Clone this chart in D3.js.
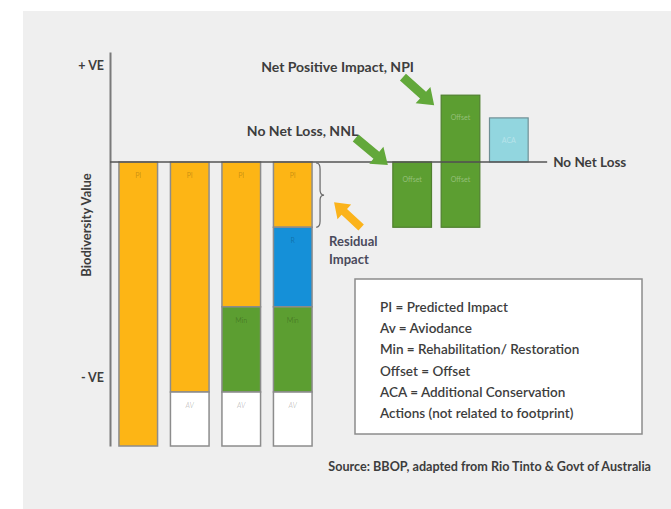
<!DOCTYPE html>
<html>
<head>
<meta charset="utf-8">
<script src="https://cdn.jsdelivr.net/npm/d3@7"></script>
<style>
  html, body { margin: 0; padding: 0; background: #ffffff; }
  svg { display: block; font-family: Lato, "Open Sans", sans-serif; }
</style>
</head>
<body>
<svg id="chart" width="671" height="509"></svg>
<script>
// ---------------- DATA ----------------
// Left group: mitigation hierarchy columns (values are biodiversity loss magnitudes, stacked downward from 0)
const leftCategories = ["Predicted impact", "Avoidance", "Minimisation", "Rehabilitation"];
const predictedImpact = [10, 8.1, 5.1, 2.3];   // orange "PI"
const residualRehab   = [0, 0, 0, 2.8];        // blue
const minimisation    = [0, 0, 3.0, 3.0];      // green "Min"
const avoidance       = [0, 1.9, 1.9, 1.9];    // white "AV"
const leftSeriesNames = ["PI", "R", "Min", "AV"];

// Right group: offsets and additional conservation
const rightCategories = ["NNL", "NPI", "ACA"];
const offsetBelow = [2.3, 2.3, 0];    // green, below baseline
const offsetAbove = [0, 2.35, 0];     // green, above baseline
const acaValues   = [0, 0, 1.55];     // light cyan, above baseline
const rightSeriesNames = ["Offset", "Offset", "ACA"];

// Axis
const yTickValues = [3.4, -7.6];
const yTickLabels = ["+ VE", "- VE"];
const yAxisTitle = "Biodiversity Value";

// Legend & notes
const legendLines = [
  "PI = Predicted Impact",
  "Av = Aviodance",
  "Min = Rehabilitation/ Restoration",
  "Offset = Offset",
  "ACA = Additional Conservation",
  "Actions (not related to footprint)"
];
const sourceText = "Source: BBOP, adapted from Rio Tinto & Govt of Australia";

// ---------------- DRAW ----------------
const svg = d3.select("#chart");
const textColor = "#3d3d3d";
const colors = { orange: "#fdb515", blue: "#1590d8", green: "#5c9e31", white: "#ffffff", cyan: "#92d6df", arrowGreen: "#62a83a" };

// panel background
svg.append("rect").attr("x", 23).attr("y", 11).attr("width", 648).attr("height", 498).attr("fill", "#efefef");

const y = d3.scaleLinear().domain([-10, 3.87]).range([446, 52]);
const xL = d3.scaleBand().domain(leftCategories).range([112.5, 318.5]).paddingInner(0.25).paddingOuter(0.125);
const xR = d3.scaleBand().domain(rightCategories).range([388, 533]).paddingInner(0.2).paddingOuter(0.1);

// Left stacked bars (downward)
const leftSeries = [
  { name: leftSeriesNames[0], values: predictedImpact, color: colors.orange },
  { name: leftSeriesNames[1], values: residualRehab, color: colors.blue },
  { name: leftSeriesNames[2], values: minimisation, color: colors.green },
  { name: leftSeriesNames[3], values: avoidance, color: colors.white }
];
const leftSegs = [];
leftCategories.forEach((c, i) => {
  let top = 0;
  leftSeries.forEach(s => {
    const v = s.values[i];
    if (v > 0) {
      leftSegs.push({ cat: c, y0: top, y1: top - v, color: s.color, name: s.name });
      top -= v;
    }
  });
});

const gBars = svg.append("g");
gBars.selectAll("rect.l").data(leftSegs).join("rect")
  .attr("class", "l")
  .attr("x", d => xL(d.cat))
  .attr("y", d => y(d.y0))
  .attr("width", xL.bandwidth())
  .attr("height", d => y(d.y1) - y(d.y0))
  .attr("fill", d => d.color)
  .attr("stroke", "#8c8c8c")
  .attr("stroke-width", 1.5);

gBars.selectAll("text.l").data(leftSegs).join("text")
  .attr("class", "l")
  .attr("x", d => xL(d.cat) + xL.bandwidth() / 2)
  .attr("y", d => y(d.y0) + 16)
  .attr("text-anchor", "middle")
  .attr("font-size", 7)
  .attr("font-style", d => d.name === "AV" ? "italic" : "normal")
  .attr("fill", "#000").attr("fill-opacity", 0.22)
  .text(d => d.name);

// Right bars
const rightSegs = [];
rightCategories.forEach((c, i) => {
  if (offsetBelow[i] > 0) rightSegs.push({ cat: c, y0: 0, y1: -offsetBelow[i], color: colors.green, name: rightSeriesNames[i] });
  if (offsetAbove[i] > 0) rightSegs.push({ cat: c, y0: offsetAbove[i], y1: 0, color: colors.green, name: rightSeriesNames[i] });
  if (acaValues[i] > 0) rightSegs.push({ cat: c, y0: acaValues[i], y1: 0, color: colors.cyan, name: rightSeriesNames[i], center: true });
});
gBars.selectAll("rect.r").data(rightSegs).join("rect")
  .attr("class", "r")
  .attr("x", d => xR(d.cat))
  .attr("y", d => y(d.y0))
  .attr("width", xR.bandwidth())
  .attr("height", d => y(d.y1) - y(d.y0))
  .attr("fill", d => d.color)
  .attr("stroke", d => d.center ? "#6f8f95" : "#4f7f2e")
  .attr("stroke-width", 1.2);
gBars.selectAll("text.r").data(rightSegs).join("text")
  .attr("class", "r")
  .attr("x", d => xR(d.cat) + xR.bandwidth() / 2)
  .attr("y", d => d.center ? (y(d.y0) + y(d.y1)) / 2 + 3 : y(d.y0) + (d.y0 > 0 ? 25 : 20))
  .attr("text-anchor", "middle")
  .attr("font-size", 7)
  .attr("fill", "#fff").attr("fill-opacity", 0.35)
  .text(d => d.name);

// Axis (vertical line with +VE / -VE labels)
const yAxis = d3.axisLeft(y).tickValues(yTickValues).tickFormat((d, i) => yTickLabels[i]).tickSize(0).tickPadding(6);
const gAxis = svg.append("g").attr("transform", "translate(110,0)").call(yAxis);
gAxis.select(".domain").attr("stroke", "#7a7a7a").attr("stroke-width", 2);
gAxis.selectAll("text").attr("font-size", 12.5).attr("font-weight", 700).attr("fill", textColor).attr("font-family", "Lato, sans-serif");

// baseline (No Net Loss)
const baseEnd = xR("ACA") + xR.bandwidth() + 19;
svg.append("line").attr("x1", 110).attr("x2", baseEnd).attr("y1", y(0)).attr("y2", y(0))
  .attr("stroke", "#555").attr("stroke-width", 1.5);
svg.append("text").attr("x", baseEnd + 6).attr("y", y(0) + 5)
  .attr("font-size", 13.5).attr("font-weight", 700).attr("fill", textColor).text("No Net Loss");

// y title
svg.append("text").attr("transform", `translate(91,225) rotate(-90)`)
  .attr("text-anchor", "middle").attr("font-size", 13).attr("font-weight", 700).attr("fill", textColor)
  .text(yAxisTitle);

// brace next to residual impact
const bx = xL(leftCategories[3]) + xL.bandwidth() + 4;
const bTop = y(0) + 1, bBot = y(-predictedImpact[3]), bMid = (bTop + bBot) / 2;
svg.append("path")
  .attr("d", `M${bx},${bTop} Q${bx + 4},${bTop} ${bx + 4},${bTop + 6} L${bx + 4},${bMid - 5} Q${bx + 4},${bMid} ${bx + 8},${bMid} Q${bx + 4},${bMid} ${bx + 4},${bMid + 5} L${bx + 4},${bBot - 6} Q${bx + 4},${bBot} ${bx},${bBot}`)
  .attr("fill", "none").attr("stroke", "#666").attr("stroke-width", 1.2);

// arrows
function arrow(tx, ty, angleDeg, len, w, hw, hl, color) {
  const pts = [[0, -w / 2], [len - hl, -w / 2], [len - hl, -hw / 2], [len, 0], [len - hl, hw / 2], [len - hl, w / 2], [0, w / 2]];
  const a = angleDeg * Math.PI / 180;
  const sx = tx - len * Math.cos(a), sy = ty - len * Math.sin(a);
  svg.append("polygon")
    .attr("points", pts.map(p => p.join(",")).join(" "))
    .attr("transform", `translate(${sx},${sy}) rotate(${angleDeg})`)
    .attr("fill", color);
}
arrow(xR("NNL") - 5, y(0) + 3, 40, 42, 9, 22, 15, colors.arrowGreen);
arrow(xR("NPI") - 7, y(offsetAbove[1]) + 10, 42, 42, 9, 22, 15, colors.arrowGreen);
arrow(bx + 18, y(-predictedImpact[3]) - 25, 223, 37, 8, 20, 14, "#fbb31b");

// annotation texts
svg.append("text").attr("x", xR("NPI") - 180).attr("y", 72)
  .attr("font-size", 14).attr("font-weight", 700).attr("fill", textColor).text("Net Positive Impact, NPI");
svg.append("text").attr("x", xR("NNL") - 146).attr("y", 136)
  .attr("font-size", 14).attr("font-weight", 700).attr("fill", textColor).text("No Net Loss, NNL");
const ri = svg.append("text").attr("x", bx + 14).attr("y", 246)
  .attr("font-size", 13).attr("font-weight", 700).attr("fill", "#4a4a5c");
ri.append("tspan").attr("x", bx + 13).attr("dy", 0).text("Residual");
ri.append("tspan").attr("x", bx + 13).attr("dy", 18).text("Impact");

// legend
const lg = svg.append("g").attr("transform", "translate(355,279)");
lg.append("rect").attr("width", 287).attr("height", 155).attr("fill", "#fff").attr("stroke", "#8c8c8c").attr("stroke-width", 1.5);
lg.selectAll("text").data(legendLines).join("text")
  .attr("x", 25).attr("y", (d, i) => 33 + i * 21.2)
  .attr("font-size", 13.5).attr("font-weight", 600).attr("fill", textColor)
  .text(d => d);

// source
svg.append("text").attr("x", 651).attr("y", 471).attr("text-anchor", "end")
  .attr("font-size", 12.6).attr("font-weight", 700).attr("fill", textColor).text(sourceText);
</script>
</body>
</html>
